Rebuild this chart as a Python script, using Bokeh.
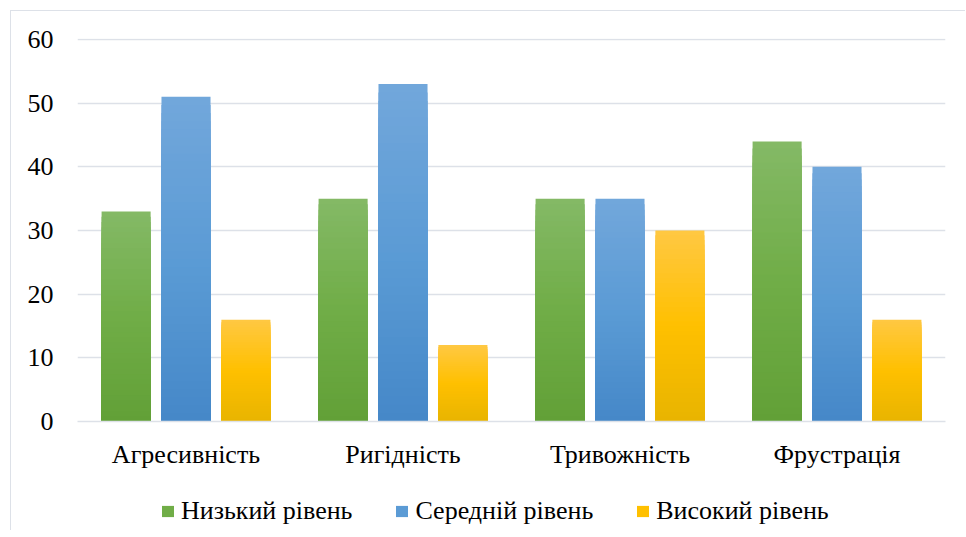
from bokeh.plotting import figure
from bokeh.models import FactorRange, ColumnDataSource, Legend, LegendItem
from bokeh.layouts import column
from bokeh.transform import dodge
from bokeh.embed import file_html
from bokeh.resources import INLINE

categories = ["Агресивність", "Ригідність", "Тривожність", "Фрустрація"]
series_names = ["Низький рівень", "Середній рівень", "Високий рівень"]
low = [33, 35, 35, 44]
mid = [51, 53, 35, 40]
high = [16, 12, 30, 16]
y_ticks = [0, 10, 20, 30, 40, 50, 60]

# gradient stops per series: top, middle, bottom
grad = [
    ("#84b966", "#70ad47", "#62a037"),
    ("#72a7db", "#5b9bd5", "#4588c8"),
    ("#ffc843", "#ffc000", "#e8b400"),
]
offsets = [-0.276, 0.0, 0.276]
bar_w = 0.226
FONT = "Liberation Serif"
FS = "26px"
GRID = "#dde1e8"

def hex2rgb(h):
    h = h.lstrip("#")
    return tuple(int(h[i:i + 2], 16) for i in (0, 2, 4))

def mix(a, b, t):
    ra, rb = hex2rgb(a), hex2rgb(b)
    return "#%02x%02x%02x" % tuple(round(ra[i] + (rb[i] - ra[i]) * t) for i in range(3))

def color_at(stops, t):  # t from top (0) to bottom (1)
    if t < 0.5:
        return mix(stops[0], stops[1], t / 0.5)
    return mix(stops[1], stops[2], (t - 0.5) / 0.5)

W = 954
p = figure(x_range=FactorRange(*categories, range_padding=0), y_range=(0, 60.16),
           width=W, height=467, output_backend="svg", toolbar_location=None,
           min_border_left=66, min_border_right=20, min_border_top=27, min_border_bottom=57)
p.outline_line_color = None
p.background_fill_color = "white"
p.border_fill_color = "white"

N = 40
for s, vals in enumerate([low, mid, high]):
    xs, tops, cols = [], [], []
    for c, v in zip(categories, vals):
        # overlapping bars from the full height down, each one shorter: gradient without seams
        for k in range(N - 1, -1, -1):
            xs.append(c)
            tops.append(v * (k + 1) / N)
            cols.append(color_at(grad[s], 1 - (k + 0.5) / N))
    src = ColumnDataSource(dict(x=xs, top=tops, color=cols))
    p.vbar(x=dodge("x", offsets[s], range=p.x_range), width=bar_w, bottom=0, top="top",
           fill_color="color", line_color=None, source=src)

p.xgrid.grid_line_color = None
p.ygrid.grid_line_color = GRID
p.ygrid.grid_line_width = 1.5
p.yaxis.ticker = y_ticks
p.yaxis.axis_line_color = None
p.yaxis.major_tick_line_color = None
p.yaxis.minor_tick_line_color = None
p.yaxis.major_tick_out = 0
p.yaxis.major_tick_in = 0
p.yaxis.major_label_standoff = 24
p.xaxis.axis_line_color = GRID
p.xaxis.axis_line_width = 1.5
p.xaxis.major_tick_line_color = None
p.xaxis.major_tick_out = 0
p.xaxis.major_tick_in = 0
p.xaxis.major_label_standoff = 18
for ax in (p.xaxis, p.yaxis):
    ax.major_label_text_font = FONT
    ax.major_label_text_font_size = FS
    ax.major_label_text_color = "black"

# legend strip
lg = figure(width=W, height=52, x_range=(0, 1), y_range=(0, 1), output_backend="svg",
            toolbar_location=None, x_axis_location=None, y_axis_location=None,
            min_border=0)
lg.outline_line_color = None
lg.grid.grid_line_color = None
lg.border_fill_color = "white"
items = []
for s in range(3):
    r = lg.vbar(x=[0.5], top=[0], width=0.0, fill_color=grad[s][1], line_color=None)
    items.append(LegendItem(label=series_names[s], renderers=[r]))
legend = Legend(items=items, orientation="horizontal", location=(83, 4),
                border_line_color=None, background_fill_alpha=0,
                label_text_font=FONT, label_text_font_size=FS, label_text_color="black",
                glyph_width=15, glyph_height=14, label_standoff=6, spacing=42,
                padding=0, margin=0)
lg.add_layout(legend)

layout = column(p, lg, spacing=0,
                styles={"border-top": "1px solid " + GRID, "border-left": "1px solid " + GRID,
                        "margin-left": "10px", "margin-top": "10px"})

open("out.html", "w").write(file_html(layout, INLINE))
